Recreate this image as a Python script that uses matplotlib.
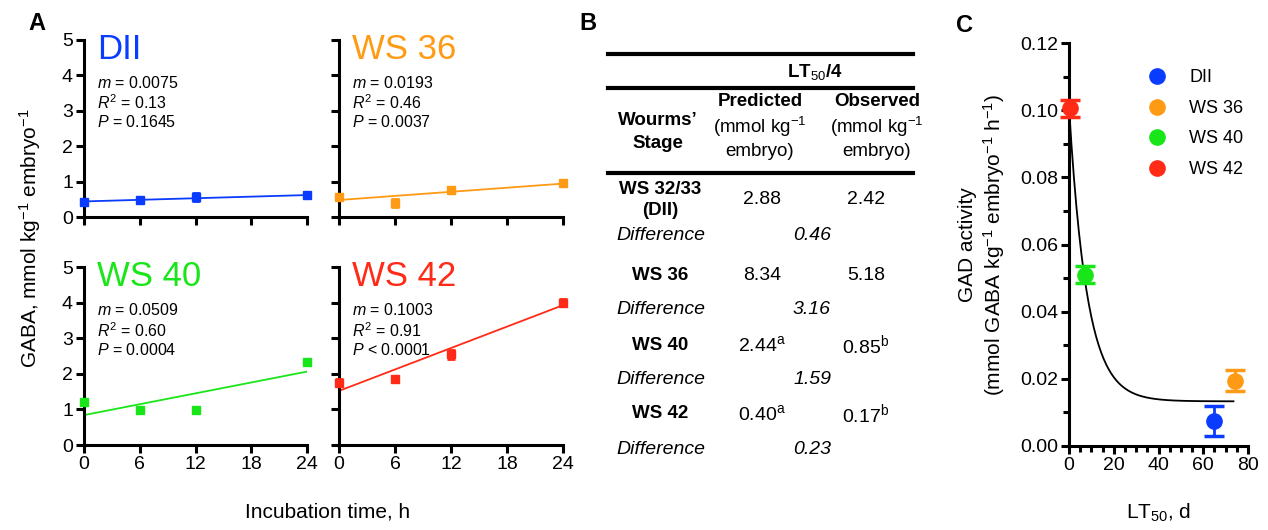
import numpy as np
import matplotlib
matplotlib.use("Agg")
from matplotlib import pyplot as plt
from matplotlib.lines import Line2D

plt.rcParams['font.family'] = ['Liberation Sans', 'DejaVu Sans']
plt.rcParams['mathtext.fontset'] = 'custom'
plt.rcParams['mathtext.rm'] = 'Liberation Sans'
plt.rcParams['mathtext.it'] = 'Liberation Sans:italic'
plt.rcParams['mathtext.bf'] = 'Liberation Sans:bold'

# panel A: GABA accumulation during anoxic incubation
hours = [0, 6, 12, 24]
stages = ['DII', 'WS 36', 'WS 40', 'WS 42']
colors = ['#0A3CFF', '#FF9A14', '#19E619', '#FF2B17']
gaba_dii = [0.42, 0.48, 0.57, 0.62]
gaba_dii_err = [0.03, 0.03, 0.12, 0.03]
gaba_ws36 = [0.57, 0.40, 0.75, 0.97]
gaba_ws36_err = [0.05, 0.12, 0.04, 0.04]
gaba_ws40 = [1.20, 0.97, 0.97, 2.32]
gaba_ws40_err = [0.04, 0.03, 0.03, 0.04]
gaba_ws42 = [1.75, 1.85, 2.55, 4.00]
gaba_ws42_err = [0.10, 0.04, 0.13, 0.09]
slopes = [0.0075, 0.0193, 0.0509, 0.1003]
intercepts = [0.44, 0.48, 0.84, 1.52]
r_squared = ['0.13', '0.46', '0.60', '0.91']
p_values = ['= 0.1645', '= 0.0037', '= 0.0004', '< 0.0001']

# panel B: table
row_stages = ['WS 32/33\n(DII)', 'WS 36', 'WS 40', 'WS 42']
predicted = ['2.88', '8.34', '2.44$^\\mathrm{a}$', '0.40$^\\mathrm{a}$']
observed = ['2.42', '5.18', '0.85$^\\mathrm{b}$', '0.17$^\\mathrm{b}$']
differences = ['0.46', '3.16', '1.59', '0.23']

# panel C: GAD activity vs LT50
lt50 = [65, 74, 7, 0.5]
gad = [0.0075, 0.0195, 0.051, 0.1005]
gad_err = [0.0045, 0.003, 0.0025, 0.0025]
# one-phase decay fit
decay_y0, decay_plateau, decay_k, decay_xmax = 0.101, 0.0133, 0.125, 73.5

W, H = 1268, 530
fig = plt.figure(figsize=(W/100, H/100), dpi=100)


def px_axes(l, t, r, b):
    return fig.add_axes([l/W, 1 - b/H, (r - l)/W, (b - t)/H])


def style(ax, lw=2.2):
    for s in ['top', 'right']:
        ax.spines[s].set_visible(False)
    for s in ['left', 'bottom']:
        ax.spines[s].set_linewidth(lw)
    ax.tick_params(width=lw, length=6, labelsize=14, pad=2)
    ax.tick_params(which='minor', width=lw, length=4)


gaba = [gaba_dii, gaba_ws36, gaba_ws40, gaba_ws42]
gaba_err = [gaba_dii_err, gaba_ws36_err, gaba_ws40_err, gaba_ws42_err]
boxes = [(84, 40, 307, 217), (339, 40, 563, 217),
         (84, 267, 307, 445), (339, 267, 563, 445)]
for i in range(4):
    ax = px_axes(*boxes[i])
    style(ax)
    ax.set_xlim(0, 24)
    ax.set_ylim(0, 5)
    ax.set_xticks([0, 6, 12, 18, 24])
    ax.set_yticks(range(6))
    if i < 2:
        ax.set_xticklabels([])
    if i % 2 == 1:
        ax.set_yticklabels([])
    c = colors[i]
    ax.errorbar(hours, gaba[i], yerr=gaba_err[i], fmt='s', color=c, ms=5.5,
                capsize=3, elinewidth=2, capthick=2, clip_on=False, zorder=3)
    xl = np.array([0, 24])
    ax.plot(xl, intercepts[i] + slopes[i]*xl, color=c, lw=1.3, zorder=2)
    ax.text(0.06, 1.04, stages[i], transform=ax.transAxes, color=c,
            fontsize=25, va='top', ha='left')
    ax.text(0.06, 0.757, '$m$ = %.4f' % slopes[i], transform=ax.transAxes,
            fontsize=11.5, va='center')
    ax.text(0.06, 0.645, '$R^2$ = ' + r_squared[i], transform=ax.transAxes,
            fontsize=11.5, va='center')
    ax.text(0.06, 0.535, '$P$ ' + p_values[i], transform=ax.transAxes,
            fontsize=11.5, va='center')

fig.text(30/W, 1 - 238/H, 'GABA, mmol kg$^{-1}$ embryo$^{-1}$', rotation=90,
         ha='center', va='center', fontsize=15)
fig.text(328/W, 1 - 512/H, 'Incubation time, h', ha='center', va='center',
         fontsize=15)

# panel B table drawn in pixel coordinates
tb = fig.add_axes([0, 0, 1, 1], zorder=-1)
tb.set_xlim(0, W)
tb.set_ylim(H, 0)
tb.axis('off')
tb.add_line(Line2D([608, 913], [54, 54], color='black', lw=3))
tb.add_line(Line2D([608, 913], [88, 88], color='black', lw=3))
tb.add_line(Line2D([608, 913], [173, 173], color='black', lw=3))
tb.text(815, 72, 'LT$_{50}$/4', ha='center', va='center', fontsize=13.5,
        fontweight='bold')
tb.text(658, 132, 'Wourms\u2019\nStage', ha='center', va='center',
        fontsize=13.5, fontweight='bold', linespacing=1.45)
for cx, head in [(760, 'Predicted'), (877, 'Observed')]:
    tb.text(cx, 102, head, ha='center', va='center', fontsize=13.5,
            fontweight='bold')
    tb.text(cx, 127, '(mmol kg$^{-1}$', ha='center', va='center',
            fontsize=13.5)
    tb.text(cx, 151, 'embryo)', ha='center', va='center', fontsize=13.5)
row_y = [200, 275, 345, 414]
for k in range(4):
    y = row_y[k]
    tb.text(660, y, row_stages[k], ha='center', va='center', fontsize=13.5,
            fontweight='bold', linespacing=1.3)
    tb.text(762, y, predicted[k], ha='center', va='center', fontsize=14)
    tb.text(866, y, observed[k], ha='center', va='center', fontsize=14)
    tb.text(661, y + 35, 'Difference', ha='center', va='center',
            fontsize=14, style='italic')
    tb.text(812, y + 35, differences[k], ha='center', va='center',
            fontsize=14, style='italic')

# panel C
axc = px_axes(1069, 43, 1248, 446)
style(axc)
axc.set_xlim(0, 80)
axc.set_ylim(0, 0.12)
axc.set_xticks([0, 20, 40, 60, 80])
axc.set_xticks(np.arange(0, 81, 5), minor=True)
axc.set_yticks(np.arange(0, 0.121, 0.02))
axc.set_yticks(np.arange(0, 0.121, 0.01), minor=True)
axc.set_yticklabels(['%.2f' % v for v in np.arange(0, 0.121, 0.02)])
xs = np.linspace(0, decay_xmax, 200)
axc.plot(xs, decay_plateau + (decay_y0 - decay_plateau)*np.exp(-decay_k*xs),
         color='black', lw=1.3, zorder=2)
handles = []
for i in range(4):
    axc.errorbar(lt50[i], gad[i], yerr=gad_err[i], fmt='o', color=colors[i],
                 ms=11, capsize=7, elinewidth=2, capthick=2.5, clip_on=False,
                 zorder=3)
    handles.append(Line2D([], [], marker='o', ls='none', color=colors[i],
                          ms=11, label=stages[i]))
axc.legend(handles=handles, loc='upper left', bbox_to_anchor=(0.35, 0.975),
           frameon=False, fontsize=13, handletextpad=1.3, labelspacing=0.75,
           handlelength=1.0)
axc.set_ylabel('GAD activity\n(mmol GABA kg$^{-1}$ embryo$^{-1}$ h$^{-1}$)',
               fontsize=15, labelpad=9)
axc.set_xlabel('LT$_{50}$, d', fontsize=15, labelpad=20)

fig.text(37/W, 1 - 24/H, 'A', fontsize=17, fontweight='bold',
         ha='center', va='center')
fig.text(588/W, 1 - 24/H, 'B', fontsize=17, fontweight='bold',
         ha='center', va='center')
fig.text(964/W, 1 - 25/H, 'C', fontsize=17, fontweight='bold',
         ha='center', va='center')

fig.savefig('out.png', dpi=100)
